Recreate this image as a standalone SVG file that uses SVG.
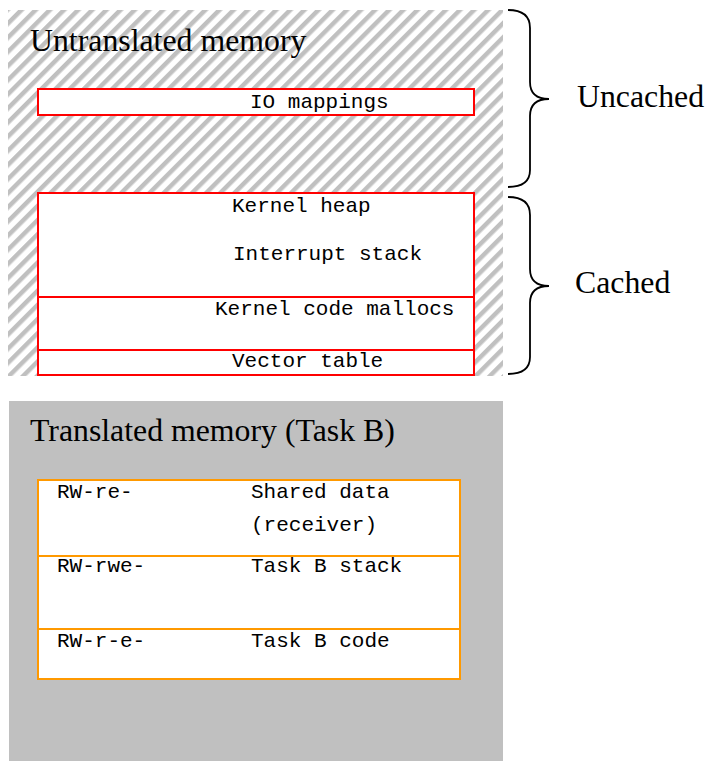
<svg xmlns="http://www.w3.org/2000/svg" width="706" height="761" viewBox="0 0 706 761">
  <style>
    .serif { font-family: "Liberation Serif", "Times New Roman", serif; font-size: 31.8px; fill: #000; }
    .mono { font-family: "Liberation Mono", "Courier New", monospace; font-size: 21px; fill: #000; }
    .kbox { fill: #fff; stroke: #ff0000; stroke-width: 2; }
    .kline { stroke: #ff0000; stroke-width: 2; }
    .tbox { fill: #fff; stroke: #ff9900; stroke-width: 2; }
    .tline { stroke: #ff9900; stroke-width: 2; }
    .brace { fill: none; stroke: #000; stroke-width: 1.8; }
  </style>
  <defs>
    <pattern id="hatch" width="10" height="10" patternUnits="userSpaceOnUse" patternTransform="rotate(45)">
      <rect width="10" height="10" fill="#fff"/>
      <rect x="0" y="0" width="4.5" height="10" fill="#c0c0c0"/>
    </pattern>
  </defs>
  <rect width="706" height="761" fill="#fff"/>

  <!-- Untranslated region -->
  <g id="untranslated">
    <rect x="8" y="10" width="495" height="366" fill="url(#hatch)"/>
    <text class="serif" x="30" y="51">Untranslated memory</text>
  </g>

  <g id="io-mappings">
    <rect class="kbox" x="38" y="89" width="436" height="26"/>
    <text class="mono" x="250" y="108">IO mappings</text>
  </g>

  <g id="kernel">
    <rect class="kbox" x="38" y="193" width="436" height="182"/>
    <line class="kline" x1="38" y1="297" x2="474" y2="297"/>
    <line class="kline" x1="38" y1="350" x2="474" y2="350"/>
    <text class="mono" x="232" y="212">Kernel heap</text>
    <text class="mono" x="233" y="260">Interrupt stack</text>
    <text class="mono" x="215" y="315">Kernel code mallocs</text>
    <text class="mono" x="232" y="367">Vector table</text>
  </g>

  <!-- Braces -->
  <g id="connectors">
    <path class="brace" d="M508,10 Q530,10 530,28 L530,82 Q530,99 549,99 Q530,99 530,116 L530,170 Q530,187 508,187"/>
    <path class="brace" d="M508,197 Q530,197 530,215 L530,269 Q530,286 549,286 Q530,286 530,303 L530,357 Q530,374 508,374"/>
  </g>
  <g id="uncached-label">
    <text class="serif" x="577" y="107">Uncached</text>
  </g>
  <g id="cached-label">
    <text class="serif" x="575" y="293">Cached</text>
  </g>

  <!-- Translated region -->
  <g id="translated">
    <rect x="9" y="401" width="494" height="360" fill="#c0c0c0"/>
    <text class="serif" x="30" y="441">Translated memory (Task B)</text>
  </g>

  <g id="task-b">
    <rect class="tbox" x="38" y="480" width="422" height="199"/>
    <line class="tline" x1="38" y1="556" x2="460" y2="556"/>
    <line class="tline" x1="38" y1="629" x2="460" y2="629"/>
    <text class="mono" x="57" y="498">RW-re-</text>
    <text class="mono" x="251" y="498">Shared data</text>
    <text class="mono" x="251" y="531">(receiver)</text>
    <text class="mono" x="57" y="572">RW-rwe-</text>
    <text class="mono" x="251" y="572">Task B stack</text>
    <text class="mono" x="57" y="647">RW-r-e-</text>
    <text class="mono" x="251" y="647">Task B code</text>
  </g>
</svg>
